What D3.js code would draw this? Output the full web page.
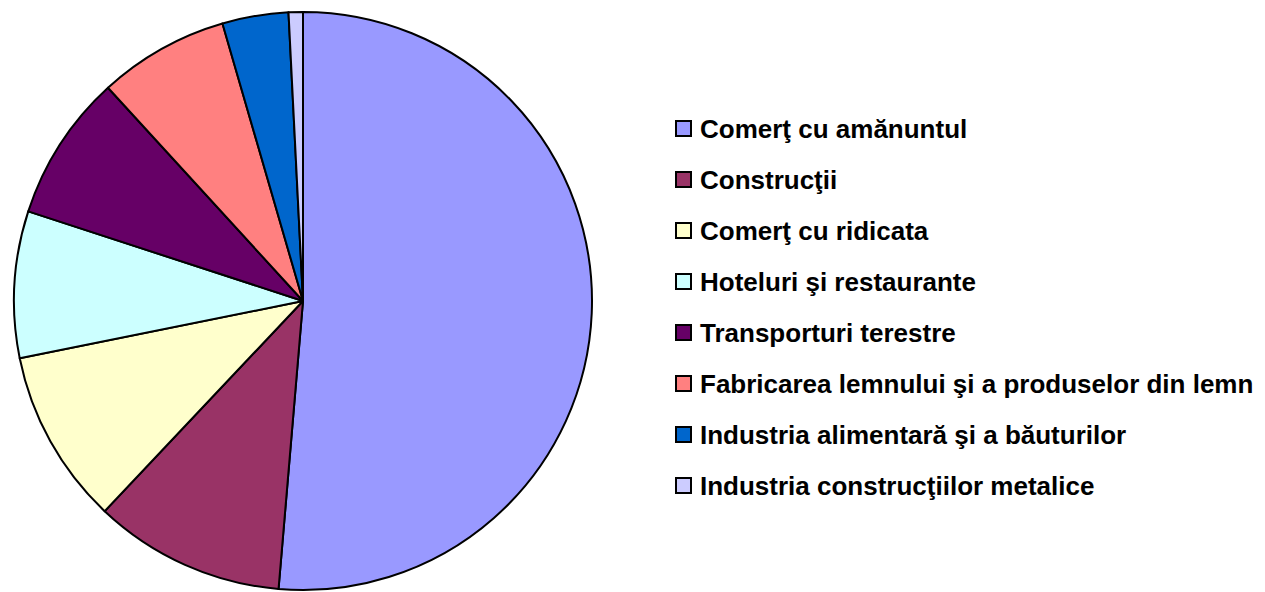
<!DOCTYPE html>
<html>
<head>
<meta charset="utf-8">
<script src="https://cdn.jsdelivr.net/npm/d3@7"></script>
<style>
  body { margin: 0; background: #fff; }
  text { font-family: "Liberation Sans", Arial, sans-serif; font-weight: bold; }
</style>
</head>
<body>
<div id="chart"></div>
<script>
// Categories and shares (percent).
const categories = [
    "Comerţ cu amănuntul",
    "Construcţii",
    "Comerţ cu ridicata",
    "Hoteluri şi restaurante",
    "Transporturi terestre",
    "Fabricarea lemnului şi a produselor din lemn",
    "Industria alimentară şi a băuturilor",
    "Industria construcţiilor metalice"
];
const values = [51.4, 10.7, 9.8, 8.2, 8.2, 7.3, 3.7, 0.8];
const colors = ["#9999FF", "#993366", "#FFFFCC", "#CCFFFF", "#660066", "#FF8080", "#0066CC", "#CCCCFF"];

const width = 1265, height = 592;
const radius = 289;
const cx = 303, cy = 301;

const svg = d3.select('#chart').append('svg')
    .attr('width', width)
    .attr('height', height);

const data = categories.map((c, i) => ({ name: c, value: values[i], color: colors[i] }));

const pie = d3.pie()
    .value(d => d.value)
    .sort(null);

const arc = d3.arc()
    .innerRadius(0)
    .outerRadius(radius);

const g = svg.append('g')
    .attr('transform', `translate(${cx},${cy})`);

g.selectAll('path')
    .data(pie(data))
    .join('path')
    .attr('d', arc)
    .attr('fill', d => d.data.color)
    .attr('stroke', '#000')
    .attr('stroke-width', 2)
    .attr('stroke-linejoin', 'round');

// Legend, one row per category.
const legendY = d3.scalePoint()
    .domain(categories)
    .range([128.5, 485.5]);

const legend = svg.append('g').attr('class', 'legend');

const item = legend.selectAll('g')
    .data(data)
    .join('g')
    .attr('transform', d => `translate(675,${legendY(d.name)})`);

item.append('rect')
    .attr('x', 1)
    .attr('y', -7.5)
    .attr('width', 15)
    .attr('height', 15)
    .attr('fill', d => d.color)
    .attr('stroke', '#000')
    .attr('stroke-width', 2);

item.append('text')
    .attr('x', 25)
    .attr('y', 9)
    .style('font-size', '26px')
    .text(d => d.name);
</script>
</body>
</html>
